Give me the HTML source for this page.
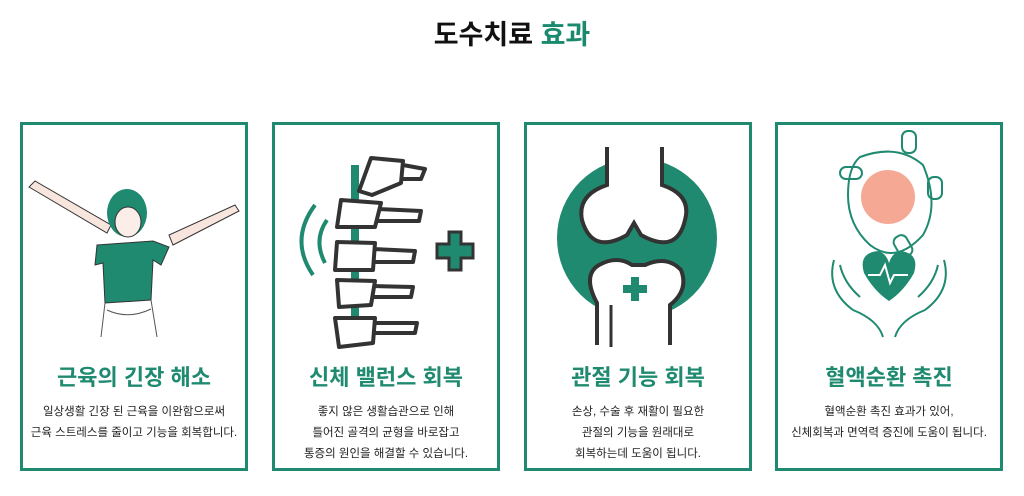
<!DOCTYPE html>
<html><head><meta charset="utf-8"><style>
*{margin:0;padding:0;box-sizing:border-box}
body{width:1024px;height:496px;background:#fff;position:relative;overflow:hidden;font-family:"Liberation Sans","Noto Sans CJK KR",sans-serif}
h1{position:absolute;top:13px;left:0;width:1024px;text-align:center;font-size:27px;font-weight:bold;color:#111}
h1 span{color:#1a8a6e}
.card{position:absolute;top:122px;width:228px;height:349px;border:3px solid #1f8a70}
.card h2{position:absolute;top:235px;left:0;width:100%;text-align:center;font-size:22px;font-weight:bold;color:#1f8a70}
.card p{position:absolute;top:277px;left:0;width:100%;text-align:center;font-size:11.5px;line-height:21px;color:#222}
.card svg{position:absolute;left:0;top:0}
</style></head><body>
<h1>도수치료 <span>효과</span></h1>

<div class="card" style="left:20px">
<svg width="222" height="230">
<path d="M6 62 L84 108 L88 100 L12 56Z M216 86 L150 120 L146 110 L212 80Z" fill="#f8e6de" stroke="#333" stroke-width="1"/>
<ellipse cx="104" cy="88" rx="20" ry="24" fill="#1f8a70"/>
<ellipse cx="105" cy="97" rx="13" ry="15" fill="#fbeee8" stroke="#333"/>
<path d="M74 120 L130 116 L146 122 L138 140 L130 135 L128 175 L82 178 L80 138 L72 140 Z" fill="#1f8a70" stroke="#333"/>
<path d="M82 178 L78 212 M128 175 L134 212 M84 185 Q105 195 128 184" stroke="#555" fill="none"/>
</svg>
<h2>근육의 긴장 해소</h2>
<p>일상생활 긴장 된 근육을 이완함으로써<br>근육 스트레스를 줄이고 기능을 회복합니다.</p>
</div>

<div class="card" style="left:272px">
<svg width="222" height="230">
<rect x="76" y="40" width="8" height="160" fill="#1f8a70"/>
<g fill="#fff" stroke="#333" stroke-width="4" stroke-linejoin="round">
<path d="M96 33 L128 36 L126 58 L97 70 L84 66Z M128 40 L150 44 L146 54 L126 54"/>
<path d="M66 75 L106 78 L100 102 L62 102Z M104 84 L146 86 L144 96 L102 96"/>
<path d="M62 117 L100 118 L98 145 L60 145Z M98 124 L140 126 L138 137 L98 137"/>
<path d="M62 155 L100 156 L96 180 L64 182Z M98 161 L138 162 L136 172 L96 172"/>
<path d="M60 193 L100 193 L98 218 L64 222Z M98 198 L142 198 L140 208 L98 208"/>
</g>
<g fill="none" stroke="#1f8a70" stroke-width="4">
<path d="M40 80 Q14 115 38 150"/><path d="M52 95 Q38 115 50 138"/>
</g>
<path d="M174 107 h12 v12 h12 v14 h-12 v12 h-12 v-12 h-12 v-14 h12z" fill="#1f8a70" stroke="#333" stroke-width="3"/>
</svg>
<h2>신체 밸런스 회복</h2>
<p>좋지 않은 생활습관으로 인해<br>틀어진 골격의 균형을 바로잡고<br>통증의 원인을 해결할 수 있습니다.</p>
</div>

<div class="card" style="left:524px">
<svg width="222" height="230">
<circle cx="110" cy="113" r="80" fill="#1f8a70"/>
<path d="M80 22 L80 60 Q50 70 55 95 Q65 130 100 110 L107 98 L114 110 Q150 130 158 95 Q165 70 135 60 L135 22" fill="#fff" stroke="#333" stroke-width="4"/>
<path d="M70 220 L70 178 Q55 150 72 140 Q90 130 105 140 L118 140 Q140 130 154 145 Q162 165 143 180 L143 220" fill="#fff" stroke="#333" stroke-width="4"/>
<path d="M84 180 L84 222" stroke="#333" stroke-width="3"/>
<path d="M104 152 h8 v8 h8 v8 h-8 v8 h-8 v-8 h-8 v-8 h8z" fill="#1f8a70"/>
</svg>
<h2>관절 기능 회복</h2>
<p>손상, 수술 후 재활이 필요한<br>관절의 기능을 원래대로<br>회복하는데 도움이 됩니다.</p>
</div>

<div class="card" style="left:775px">
<svg width="222" height="230">
<g fill="none" stroke="#1f8a70" stroke-width="2">
<path d="M82 32 Q120 18 145 40 Q162 80 145 110 Q118 140 92 120 Q70 100 70 70 Q70 42 82 32Z"/>
<rect x="124" y="6" width="14" height="22" rx="6"/><rect x="62" y="42" width="22" height="12" rx="6"/><rect x="150" y="52" width="14" height="22" rx="6"/><rect x="118" y="110" width="14" height="22" rx="6" transform="rotate(-30 125 121)"/>
</g>
<circle cx="110" cy="72" r="27" fill="#f4a08a" opacity="0.9"/>
<path d="M86 148 Q80 128 100 126 Q108 128 111 138 Q114 128 122 126 Q142 128 136 148 Q126 166 111 176 Q96 166 86 148Z" fill="#1f8a70"/>
<path d="M90 150 h12 l5 -10 l5 18 l4 -8 h14" stroke="#fff" stroke-width="2" fill="none"/>
<g fill="none" stroke="#1f8a70" stroke-width="2">
<path d="M56 135 Q48 165 75 185 Q100 195 105 212 M62 140 Q66 158 82 172"/>
<path d="M166 135 Q174 165 147 185 Q122 195 117 212 M160 140 Q156 158 140 172"/>
</g>
</svg>
<h2>혈액순환 촉진</h2>
<p>혈액순환 촉진 효과가 있어,<br>신체회복과 면역력 증진에 도움이 됩니다.</p>
</div>
</body></html>
